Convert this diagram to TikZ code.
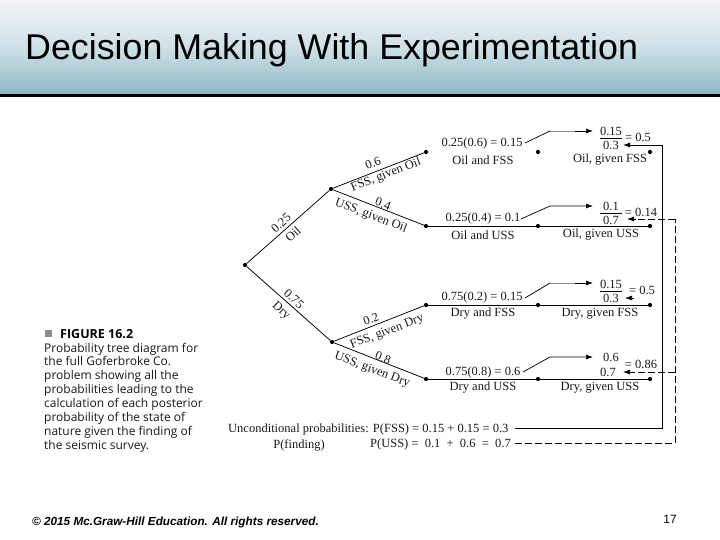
\documentclass[tikz,border=0pt]{standalone}
\usepackage{fontspec}
\setmainfont{Liberation Serif}
\newfontfamily\arialf{Liberation Sans}
\newfontfamily\capf{Open Sans}
\usetikzlibrary{arrows.meta}
\definecolor{bandtop}{HTML}{F0F5F7}
\definecolor{bandmid}{HTML}{CFE0E7}
\definecolor{bandbot}{HTML}{8DB9C7}
\tikzset{
  x=1pt,y=-1pt,
  treedot/.style={circle,fill=black,inner sep=0pt,minimum size=4.2pt},
  treeline/.style={line width=0.75pt},
  lbl/.style={inner sep=0pt,font=\fontsize{12.5}{13}\selectfont,text=black!90},
  conn/.style={line width=0.7pt,-{Latex[length=7pt,width=5pt]}},
  solidback/.style={line width=0.9pt},
  dashback/.style={line width=0.8pt,dash pattern=on 7pt off 3pt},
  capline/.style={anchor=base west,inner sep=0pt,font=\capf\fontsize{12}{13}\selectfont,text=black!90},
}
\begin{document}
\begin{tikzpicture}
\useasboundingbox (0,0) rectangle (720,540);
\fill[white] (0,0) rectangle (720,540);
\shade[top color=bandtop,bottom color=bandbot,middle color=bandmid] (0,0) rectangle (720,94);
\fill[black] (0,94) rectangle (720,97.5);
\node[anchor=base west,inner sep=0pt,font=\arialf\fontsize{35.8}{36}\selectfont] (title) at (25,60) {Decision Making With Experimentation};

% tree nodes
\node[treedot] (root) at (245,265) {};
\node[treedot] (oil) at (331,189) {};
\node[treedot] (dry) at (332,342) {};
\node[treedot] (of) at (426,152) {};
\node[treedot] (ou) at (426,226) {};
\node[treedot] (df) at (426,305) {};
\node[treedot] (du) at (426,379) {};
\node[treedot] (ofm) at (538,152) {};
\node[treedot] (oum) at (538,226) {};
\node[treedot] (dfm) at (538,305) {};
\node[treedot] (dum) at (538,379) {};
\node[treedot] (ofr) at (650,152) {};
\node[treedot] (our) at (650,226) {};
\node[treedot] (dfr) at (650,305) {};
\node[treedot] (dur) at (650,379) {};

\draw[treeline] (root) -- (oil);
\draw[treeline] (root) -- (dry);
\draw[treeline] (oil) -- (of);
\draw[treeline] (oil) -- (ou);
\draw[treeline] (dry) -- (df);
\draw[treeline] (dry) -- (du);
\draw[treeline] (ou) -- (oum) -- (our);
\draw[treeline] (df) -- (dfm) -- (dfr);
\draw[treeline] (du) -- (dum) -- (dur);

% branch labels
\node[lbl,rotate=41.5] (l1) at (281,223) {0.25};
\node[lbl,rotate=41.5] (l2) at (293,234) {Oil};
\node[lbl,rotate=-42] (l3) at (294,299) {0.75};
\node[lbl,rotate=-42] (l4) at (281,311) {Dry};
\node[lbl,rotate=21] (l5) at (373,163) {0.6};
\node[lbl,rotate=21] (l6) at (386,175) {FSS, given Oil};
\node[lbl,rotate=-21] (l7) at (383,204) {0.4};
\node[lbl,rotate=-21] (l8) at (371,216) {USS, given Oil};
\node[lbl,rotate=21] (l9) at (371,319) {0.2};
\node[lbl,rotate=21] (l10) at (387,332) {FSS, given Dry};
\node[lbl,rotate=-21] (l11) at (383,358) {0.8};
\node[lbl,rotate=-21] (l12) at (372,370) {USS, given Dry};

% joint probabilities
\node[lbl] (e1) at (482,143) {0.25(0.6) = 0.15};
\node[lbl] (t1) at (483,160) {Oil and FSS};
\node[lbl] (e2) at (483,218) {0.25(0.4) = 0.1};
\node[lbl] (t2) at (483,235) {Oil and USS};
\node[lbl] (e3) at (482,297) {0.75(0.2) = 0.15};
\node[lbl] (t3) at (483,314) {Dry and FSS};
\node[lbl] (e4) at (483,372) {0.75(0.8) = 0.6};
\node[lbl] (t4) at (483,388) {Dry and USS};

% posterior
\node[lbl] (n1) at (611,131) {0.15};
\node[lbl] (d1) at (611,145) {0.3};
\node[lbl] (r1) at (638,137) {= 0.5};
\node[lbl] (p1) at (610,160) {Oil, given FSS};
\draw[line width=0.7pt] (600,138.5) -- (622,138.5);
\node[lbl] (n2) at (611,206) {0.1};
\node[lbl] (d2) at (611,220) {0.7};
\node[lbl] (r2) at (641,212) {= 0.14};
\node[lbl] (p2) at (601,235) {Oil, given USS};
\draw[line width=0.7pt] (600,213) -- (622,213);
\node[lbl] (n3) at (611,284) {0.15};
\node[lbl] (d3) at (611,298) {0.3};
\node[lbl] (r3) at (642,290) {= 0.5};
\node[lbl] (p3) at (600,314) {Dry, given FSS};
\draw[line width=0.7pt] (600,291) -- (622,291);
\node[lbl] (n4) at (611,357) {0.6};
\node[lbl] (d4) at (608,372) {0.7};
\node[lbl] (r4) at (641,364) {= 0.86};
\node[lbl] (p4) at (600,388) {Dry, given USS};

% unconditional
\node[lbl,anchor=base west] (u1) at (228,432) {Unconditional probabilities: P(FSS) = 0.15 + 0.15 = 0.3};
\node[lbl] (u2) at (299,445) {P(finding)};
\node[lbl,anchor=base east] (u3) at (511,447) {P(USS) =\ \ 0.1\ \ +\ \ 0.6\ \ =\ \ 0.7};

% arrows from joint to numerator
\coordinate (a1) at (550,131);
\coordinate (a2) at (550,206);
\coordinate (a3) at (550,283);
\coordinate (a4) at (550,357);
\coordinate (b1) at (525,143);
\coordinate (b2) at (521,219);
\coordinate (b3) at (525,298);
\coordinate (b4) at (523,372);
\coordinate (c1) at (593,131);
\coordinate (c2) at (593,206);
\coordinate (c3) at (593,283);
\coordinate (c4) at (593,357);
\draw[line width=0.7pt] (b1) -- (a1);
\draw[line width=0.7pt,black!45] (a1) -- (575,131);
\draw[conn] (575,131) -- (c1);
\draw[conn] (b2) -- (a2) -- (c2);
\draw[line width=0.7pt] (b3) -- (a3);
\draw[line width=0.7pt,black!45] (a3) -- (575,283);
\draw[conn] (575,283) -- (c3);
\draw[conn] (b4) -- (a4) -- (c4);

% return paths
\coordinate (s0) at (515,428);
\coordinate (s1) at (662,428);
\coordinate (s2) at (662,145);
\coordinate (s3) at (623,145);
\draw[solidback] (s0) -- (s1) -- (s2);
\draw[conn,line width=0.9pt] (s2) -- (s3);
\coordinate (s4) at (634,298);
\coordinate (s5) at (625,298);
\draw[conn] (s4) -- (s5);
\coordinate (h0) at (515,443);
\coordinate (h1) at (675,443);
\coordinate (h2) at (675,219);
\coordinate (h3) at (627,219);
\coordinate (h4) at (675,372);
\coordinate (h5) at (623,372);
\draw[dashback] (h0) -- (h1) -- (h2);
\draw[dashback] (h2) -- (636,219);
\draw[conn] (636,219) -- (h3);
\draw[dashback] (h4) -- (633,372);
\draw[conn] (633,372) -- (h5);

% caption
\fill[black!45] (45,330) rectangle (52,337);
\node[anchor=base west,inner sep=0pt,font=\capf\bfseries\fontsize{12.5}{13}\selectfont] (fig) at (60,338) {FIGURE 16.2};
\node[capline] (c01) at (44,352) {Probability tree diagram for};
\node[capline] (c02) at (44,365.9) {the full Goferbroke Co.};
\node[capline] (c03) at (44,379.7) {problem showing all the};
\node[capline] (c04) at (44,393.6) {probabilities leading to the};
\node[capline] (c05) at (44,407.4) {calculation of each posterior};
\node[capline] (c06) at (44,421.3) {probability of the state of};
\node[capline] (c07) at (44,435.1) {nature given the finding of};
\node[capline] (c08) at (44,449) {the seismic survey.};

% footer
\node[anchor=west,inner sep=0pt,font=\arialf\bfseries\itshape\fontsize{11.75}{13}\selectfont] (foot) at (32,522) {© 2015 Mc.Graw-Hill Education. All rights reserved.};
\node[inner sep=0pt,font=\arialf\fontsize{12}{13}\selectfont] (pg) at (670,519) {17};
\end{tikzpicture}
\end{document}
